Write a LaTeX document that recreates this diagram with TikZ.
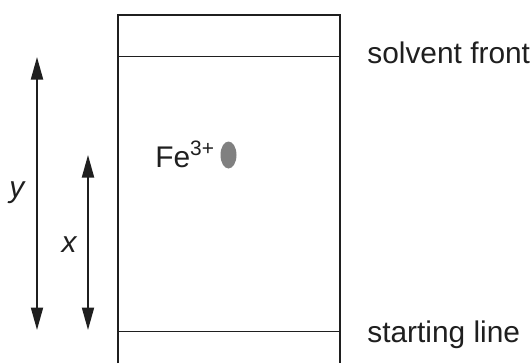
\documentclass[tikz,border=0pt]{standalone}
\usepackage{fontspec}
\setmainfont{Liberation Sans}
\usepackage{tikz}
\usetikzlibrary{arrows.meta,positioning,shapes.geometric}
\tikzset{
    ink color/.style={black!88},
    plate style/.style={ink color,line width=1.1pt},
    plate line/.style={ink color,line width=0.55pt},
    spot/.style={ellipse,fill=black!50,draw=none,minimum width=0.32cm,minimum height=0.54cm,inner sep=0pt},
    plain text/.style={ink color,inner sep=0pt},
    distance marker/.style={<->,>={Triangle[length=4.5mm,width=2.4mm]},ink color,line width=1.1pt},
}
\tikzstyle{every node}=[font=\fontsize{17}{20}\selectfont]

\begin{document}
\begin{tikzpicture}[scale=2]
        \useasboundingbox (0,0) rectangle (5.32,3.63);
        \draw[plate style] (1.18,0) -- (1.18,3.48) -- (3.40,3.48) -- (3.40,0);
        \draw[plate line] (1.18,3.07) coordinate (front left) -- (3.40,3.07) coordinate (front right);
        \draw[plate line] (1.18,0.32) coordinate (start left) -- (3.40,0.32) coordinate (start right);
        \node[plain text,anchor=base west] (front) at (3.67,3.00) {solvent front};
        \node[plain text,anchor=base west] (start) at (3.67,0.21) {starting line};

        \node[spot] (spot) at (2.285,2.08) {};
        \node[plain text,anchor=base west] (ion) at (1.55,1.96) {Fe\textsuperscript{3+}};

        \coordinate (y top) at (0.37,3.06);
        \coordinate (y bottom) at (0.37,0.33);
        \coordinate (x top) at (0.88,2.08);
        \coordinate (x bottom) at (0.88,0.33);
        \draw[distance marker] (y top) -- (y bottom);
        \draw[distance marker] (x top) -- (x bottom);
        \node[plain text,anchor=base] (y) at (0.175,1.66) {\textit{y}};
        \node[plain text,anchor=base] (x) at (0.695,1.11) {\textit{x}};
    \end{tikzpicture}
\end{document}
